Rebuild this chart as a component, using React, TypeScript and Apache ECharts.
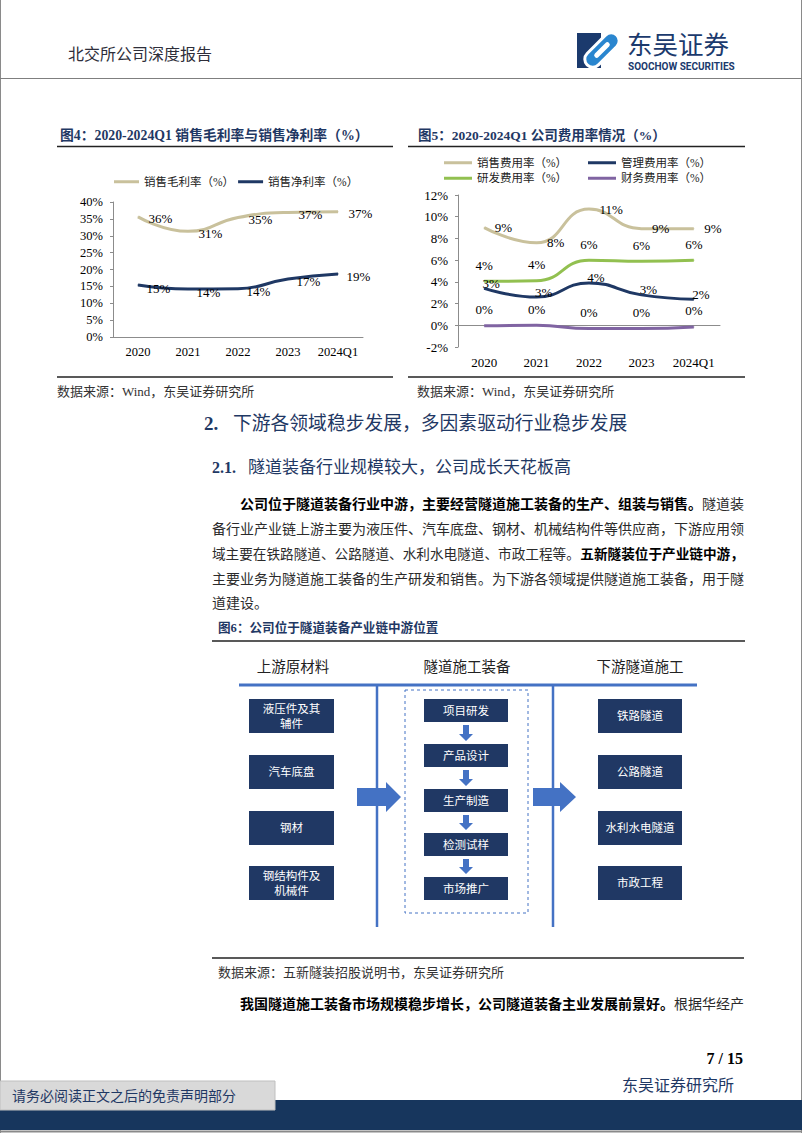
import React, { useEffect, useRef } from 'react';
import * as echarts from 'echarts';

// ---------- data ----------
const years = ['2020', '2021', '2022', '2023', '2024Q1'];
const grossMargin = [35.6, 31.3, 35.4, 36.9, 37.1];
const netMargin = [15.4, 14.2, 14.3, 17.2, 18.7];
const sellingRate = [9.0, 7.6, 10.7, 8.9, 8.9];
const adminRate = [3.4, 2.6, 3.9, 2.8, 2.4];
const rdRate = [4.05, 4.1, 6.0, 5.9, 6.0];
const financeRate = [-0.05, 0.0, -0.3, -0.3, -0.15];

const chart1Names = ['销售毛利率（%）', '销售净利率（%）'];
const chart2Names = ['销售费用率（%）', '管理费用率（%）', '研发费用率（%）', '财务费用率（%）'];

const upstream = ['液压件及其\n辅件', '汽车底盘', '钢材', '钢结构件及\n机械件'];
const midstream = ['项目研发', '产品设计', '生产制造', '检测试样', '市场推广'];
const downstream = ['铁路隧道', '公路隧道', '水利水电隧道', '市政工程'];
const diagramHeads = ['上游原材料', '隧道施工装备', '下游隧道施工'];

const para1 = [
  [{ t: '公司位于隧道装备行业中游，主要经营隧道施工装备的生产、组装与销售。', b: true }, { t: '隧道装', b: false }],
  [{ t: '备行业产业链上游主要为液压件、汽车底盘、钢材、机械结构件等供应商，下游应用领', b: false }],
  [{ t: '域主要在铁路隧道、公路隧道、水利水电隧道、市政工程等。', b: false }, { t: '五新隧装位于产业链中游，', b: true }],
  [{ t: '主要业务为隧道施工装备的生产研发和销售。为下游各领域提供隧道施工装备，用于隧', b: false }],
  [{ t: '道建设。', b: false }],
];
const para2 = [{ t: '我国隧道施工装备市场规模稳步增长，公司隧道装备主业发展前景好。', b: true }, { t: '根据华经产', b: false }];

// ---------- styles ----------
const FONT = "'Liberation Serif', 'Noto Sans CJK SC', serif";
const NAVY = '#1f3864';
const BEIGE = '#c9c19c';
const GREEN = '#92c050';
const PURPLE = '#8064a2';
const BLUE = '#4472c4';
const BOX = '#203864';

const T = (text: string, x: number, y: number, o: any = {}) => ({
  type: 'text',
  x,
  y,
  silent: true,
  style: {
    text,
    fill: o.fill || '#000',
    fontSize: o.size || 14,
    fontFamily: o.family || FONT,
    fontWeight: o.bold ? 'bold' : 'normal',
    textAlign: o.align || 'left',
    textVerticalAlign: 'middle',
    lineHeight: o.lh,
  },
});

const L = (x1: number, y1: number, x2: number, y2: number, color: string, w: number, dash?: number[]) => ({
  type: 'line',
  silent: true,
  shape: { x1, y1, x2, y2 },
  style: { stroke: color, lineWidth: w, lineDash: dash },
});

const R = (x: number, y: number, w: number, h: number, style: any) => ({
  type: 'rect',
  silent: true,
  shape: { x, y, width: w, height: h },
  style,
});

function segLine(segs: { t: string; b: boolean }[], x: number, y: number, right: number | null) {
  const total = segs.reduce((s, g) => s + g.t.length, 0);
  const fs = right ? Math.min(14.4, (right - x) / total) : 14;
  const out: any[] = [];
  let cx = x;
  segs.forEach((g) => {
    out.push(T(g.t, cx, y, { size: fs, bold: g.b, fill: g.b ? '#000' : '#2b2b2b' }));
    cx += g.t.length * fs;
  });
  return out;
}

function buildGraphics() {
  const g: any[] = [];
  // page frame
  g.push(L(0.5, 0, 0.5, 1133, '#8a8a8a', 1));
  g.push(L(801.5, 0, 801.5, 1133, '#8a8a8a', 1));
  // header
  g.push(T('北交所公司深度报告', 68, 54, { size: 16, fill: '#2e2e3a' }));
  g.push(R(577, 33, 24, 35, { fill: '#1b3a6d' }));
  g.push({
    type: 'rect', silent: true, x: 602, y: 50, rotation: Math.PI / 4,
    shape: { x: -21, y: -8, width: 42, height: 16, r: 8 },
    style: { fill: '#2a86cf', stroke: '#fff', lineWidth: 3 },
  });
  g.push({
    type: 'rect', silent: true, x: 602, y: 50, rotation: Math.PI / 4,
    shape: { x: -10, y: -2.5, width: 20, height: 5, r: 2.5 },
    style: { fill: '#fff' },
  });
  g.push(T('东吴证券', 627, 42, { size: 25.5, fill: '#1b3a6d', family: "'Noto Sans CJK SC', sans-serif" }));
  g.push(T('SOOCHOW SECURITIES', 628, 66.5, { size: 10, bold: true, fill: '#1b3a6d', family: "Roboto, 'DejaVu Sans', sans-serif" }));
  g.push(L(0, 78.5, 802, 78.5, '#7f7f7f', 1));

  // chart titles & rules
  g.push(T('图4：2020-2024Q1 销售毛利率与销售净利率（%）', 60, 135, { size: 13.8, bold: true, fill: NAVY }));
  g.push(T('图5：2020-2024Q1 公司费用率情况（%）', 418, 135, { size: 13.5, bold: true, fill: NAVY }));
  g.push(L(57, 146.5, 393, 146.5, '#222', 1.5));
  g.push(L(408, 146.5, 745, 146.5, '#222', 1.5));
  g.push(L(57, 377, 393, 377, '#222', 1.5));
  g.push(L(408, 377, 745, 377, '#222', 1.5));
  g.push(T('数据来源：Wind，东吴证券研究所', 57, 391, { size: 13, fill: '#333' }));
  g.push(T('数据来源：Wind，东吴证券研究所', 417, 391, { size: 13, fill: '#333' }));

  // headings
  g.push(T('2.', 204, 423, { size: 19, bold: true, fill: NAVY }));
  g.push(T('下游各领域稳步发展，多因素驱动行业稳步发展', 233, 423, { size: 18.8, fill: NAVY }));
  g.push(T('2.1.', 212, 467, { size: 16, bold: true, fill: NAVY }));
  g.push(T('隧道装备行业规模较大，公司成长天花板高', 248, 467, { size: 17, fill: NAVY }));

  // paragraph
  const py = [504, 529, 554, 579, 603];
  para1.forEach((segs, i) => {
    const x = i === 0 ? 240 : 212;
    const right = i === para1.length - 1 ? null : 744;
    g.push(...segLine(segs, x, py[i], right));
  });

  // figure 6
  g.push(T('图6：公司位于隧道装备产业链中游位置', 218, 628, { size: 12.6, bold: true, fill: NAVY }));
  g.push(L(212, 641, 745, 641, '#222', 1.5));
  const headX = [293, 467, 640];
  diagramHeads.forEach((h, i) => g.push(T(h, headX[i], 667, { size: 14.5, fill: '#222', align: 'center' })));
  g.push(L(239, 685, 697, 685, BLUE, 3));
  g.push(L(377, 685, 377, 927, BLUE, 2.5));
  g.push(L(553, 685, 553, 927, BLUE, 2.5));
  g.push(R(405, 690, 123, 223, { fill: 'none', stroke: BLUE, lineWidth: 1, lineDash: [3, 3] }));

  const sideTops = [699, 755, 811, 866];
  upstream.forEach((s, i) => {
    g.push(R(249, sideTops[i], 85, 34, { fill: BOX }));
    g.push(T(s, 291.5, sideTops[i] + 17, { size: 11.5, fill: '#fff', align: 'center', lh: 15 }));
  });
  downstream.forEach((s, i) => {
    g.push(R(598, sideTops[i], 84, 34, { fill: BOX }));
    g.push(T(s, 640, sideTops[i] + 17, { size: 11.5, fill: '#fff', align: 'center', lh: 15 }));
  });
  const midTops = [699, 744, 789, 833, 877];
  midstream.forEach((s, i) => {
    g.push(R(424, midTops[i], 84, 23, { fill: BOX }));
    g.push(T(s, 466, midTops[i] + 11.5, { size: 11.5, fill: '#fff', align: 'center' }));
    if (i < midstream.length - 1) {
      const t = midTops[i] + 26;
      const b = midTops[i + 1] - 3;
      const cx = 466;
      g.push({
        type: 'polygon', silent: true,
        shape: { points: [[cx - 3, t], [cx + 3, t], [cx + 3, b - 7], [cx + 7, b - 7], [cx, b], [cx - 7, b - 7], [cx - 3, b - 7]] },
        style: { fill: BLUE },
      });
    }
  });
  const bigArrow = (x0: number, xb: number, xt: number) => ({
    type: 'polygon', silent: true,
    shape: { points: [[x0, 788], [xb, 788], [xb, 782], [xt, 797], [xb, 812], [xb, 806], [x0, 806]] },
    style: { fill: BLUE },
  });
  g.push(bigArrow(357, 386, 401));
  g.push(bigArrow(533, 560, 576));

  // source & next paragraph
  g.push(L(212, 958, 744, 958, '#222', 1.5));
  g.push(T('数据来源：五新隧装招股说明书，东吴证券研究所', 218, 972, { size: 13, fill: '#333' }));
  g.push(...segLine(para2, 240, 1004, 744));

  // page footer
  g.push(T('7 / 15', 743, 1058, { size: 16, bold: true, align: 'right', family: "'Liberation Serif', serif" }));
  g.push(T('东吴证券研究所', 622, 1085, { size: 16, fill: NAVY }));
  g.push(R(0, 1100, 802, 30, { fill: '#17365d' }));
  g.push(R(0, 1081, 275, 29, { fill: '#d9d9d9', stroke: '#bfbfbf', lineWidth: 1 }));
  g.push(T('请务必阅读正文之后的免责声明部分', 12, 1096, { size: 14, fill: NAVY }));
  g.push(L(0, 1131.5, 802, 1131.5, '#8a8a8a', 2));
  return g;
}

const pct = (p: any) => `${Math.round(p.value)}%`;

function lineSeries(name: string, data: number[], color: string, idx: number, label: any, z = 2) {
  return {
    type: 'line',
    name,
    data,
    xAxisIndex: idx,
    yAxisIndex: idx,
    smooth: true,
    symbol: 'circle',
    symbolSize: 1,
    itemStyle: { color },
    lineStyle: { color, width: 3 },
    z,
    emphasis: { disabled: true },
    label: {
      show: true,
      color: '#000',
      fontFamily: FONT,
      fontSize: 13,
      formatter: pct,
      ...label,
    },
  };
}

const axisText = { color: '#000', fontFamily: FONT, fontSize: 12.5 };
const legendText = { color: '#222', fontFamily: FONT, fontSize: 11.5 };

function buildOption() {
  return {
    animation: false,
    backgroundColor: '#fff',
    grid: [
      { left: 113, top: 202, width: 250, height: 135, containLabel: false },
      { left: 458, top: 195, width: 262, height: 152, containLabel: false },
    ],
    xAxis: [
      {
        type: 'category', gridIndex: 0, data: years, boundaryGap: true,
        axisLine: { lineStyle: { color: '#8c8c8c' } },
        axisTick: { inside: true, length: 5, lineStyle: { color: '#8c8c8c' } },
        axisLabel: { ...axisText, fontSize: 12.5, margin: 9, interval: 0 },
      },
      {
        type: 'category', gridIndex: 1, data: years, boundaryGap: true,
        axisLine: { onZero: true, lineStyle: { color: '#8c8c8c' } },
        axisTick: { inside: true, length: 5, lineStyle: { color: '#8c8c8c' } },
        axisLabel: { ...axisText, fontSize: 13, margin: 9, interval: 0 },
      },
    ],
    yAxis: [
      {
        type: 'value', gridIndex: 0, min: 0, max: 40, interval: 5,
        axisLine: { show: true, lineStyle: { color: '#8c8c8c' } },
        axisTick: { show: true, length: 3, lineStyle: { color: '#8c8c8c' } },
        splitLine: { show: false },
        axisLabel: { ...axisText, formatter: '{value}%', margin: 10 },
      },
      {
        type: 'value', gridIndex: 1, min: -2, max: 12, interval: 2,
        axisLine: { show: true, lineStyle: { color: '#8c8c8c' } },
        axisTick: { show: true, length: 3, lineStyle: { color: '#8c8c8c' } },
        splitLine: { show: false },
        axisLabel: { ...axisText, fontSize: 13, formatter: '{value}%', margin: 10 },
      },
    ],
    legend: [
      {
        left: 114, top: 176, padding: 0, icon: 'rect', itemWidth: 25, itemHeight: 3, itemGap: 4,
        textStyle: legendText, data: chart1Names, selectedMode: false,
      },
      {
        left: 444, top: 157, padding: 0, orient: 'vertical', icon: 'rect', itemWidth: 28, itemHeight: 3, itemGap: 4,
        textStyle: legendText, data: [chart2Names[0], chart2Names[2]], selectedMode: false,
      },
      {
        left: 588, top: 157, padding: 0, orient: 'vertical', icon: 'rect', itemWidth: 28, itemHeight: 3, itemGap: 4,
        textStyle: legendText, data: [chart2Names[1], chart2Names[3]], selectedMode: false,
      },
    ],
    series: [
      lineSeries(chart1Names[0], grossMargin, BEIGE, 0, { position: 'right', distance: 10, offset: [0, 2] }),
      lineSeries(chart1Names[1], netMargin, NAVY, 0, { position: 'right', distance: 8, offset: [0, 3] }),
      lineSeries(chart2Names[0], sellingRate, BEIGE, 1, { position: 'right', distance: 10 }),
      lineSeries(chart2Names[1], adminRate, NAVY, 1, { position: 'inside', offset: [7, -5] }, 4),
      lineSeries(chart2Names[2], rdRate, GREEN, 1, { position: 'top', distance: 9 }),
      lineSeries(chart2Names[3], financeRate, PURPLE, 1, { position: 'top', distance: 9 }),
    ],
    graphic: { elements: buildGraphics() },
  };
}

export default function App() {
  const ref = useRef<HTMLDivElement>(null);
  useEffect(() => {
    if (!ref.current) return;
    const chart = echarts.init(ref.current, undefined, { renderer: 'svg' });
    chart.setOption(buildOption() as any);
    return () => chart.dispose();
  }, []);
  return (
    <div
      ref={ref}
      style={{ position: 'absolute', left: 0, top: 0, width: 802, height: 1133, background: '#fff' }}
    />
  );
}
